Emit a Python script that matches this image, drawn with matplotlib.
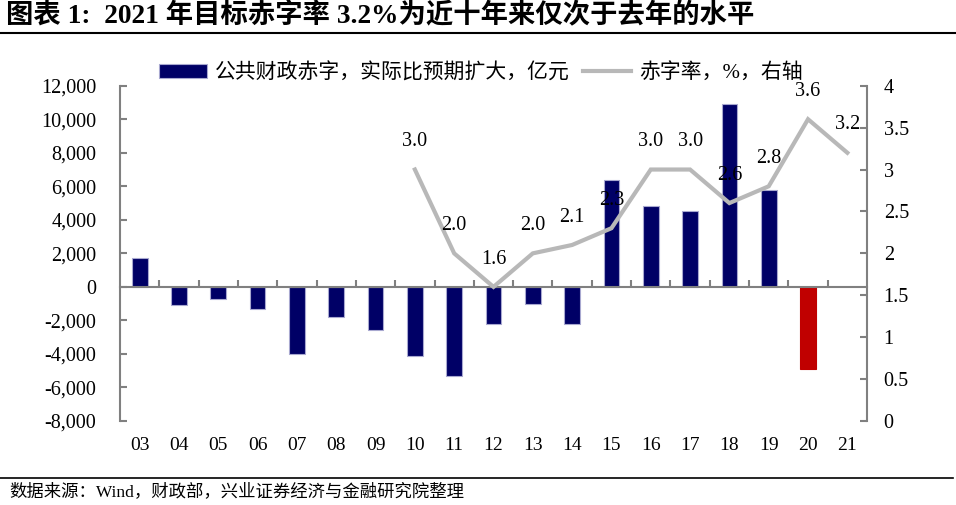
import matplotlib
matplotlib.use("Agg")
import matplotlib.pyplot as plt
import numpy as np

plt.rcParams['font.family'] = ['Liberation Serif', 'Noto Sans CJK SC']
plt.rcParams['axes.unicode_minus'] = False

years = ["03", "04", "05", "06", "07", "08", "09", "10", "11", "12",
         "13", "14", "15", "16", "17", "18", "19", "20", "21"]
deficit_gap = [1750, -1100, -700, -1300, -4000, -1800, -2600, -4100, -5300, -2200,
               -1000, -2200, 6350, 4800, 4550, 10900, 5750, -4900, np.nan]
rate_years = ["10", "11", "12", "13", "14", "15", "16", "17", "18", "19", "20", "21"]
deficit_rate = [3.0, 2.0, 1.6, 2.0, 2.1, 2.3, 3.0, 3.0, 2.6, 2.8, 3.6, 3.2]

bar_label = "公共财政赤字，实际比预期扩大，亿元"
line_label = "赤字率，%，右轴"
title = "图表 1:  2021 年目标赤字率 3.2%为近十年来仅次于去年的水平"
source = "数据来源：Wind，财政部，兴业证券经济与金融研究院整理"

navy = "#000066"
red = "#C00000"
grey_line = "#B8B8B8"
axis_grey = "#808080"

fig = plt.figure(figsize=(9.56, 5.05), dpi=100)
ax = fig.add_axes([120 / 956, 1 - 421 / 505, (867 - 120) / 956, (421 - 85.7) / 505])

x = np.arange(len(years))
colors = [navy] * len(years)
colors[years.index("20")] = red
bars = ax.bar(x, deficit_gap, width=0.4, color=colors, edgecolor="#A8A8D0",
              linewidth=0.8, label=bar_label, zorder=2)
bars[years.index("20")].set_edgecolor(red)

ax.set_xlim(-0.5, len(years) - 0.5)
ax.set_ylim(-8000, 12000)
ax.set_yticks(np.arange(-8000, 12001, 2000))
ax.set_yticklabels([f"{v:,}" for v in range(-8000, 12001, 2000)])

ax.spines['top'].set_visible(False)
ax.spines['right'].set_visible(False)
ax.spines['bottom'].set_position(('data', 0))
for s in ['left', 'bottom']:
    ax.spines[s].set_color(axis_grey)
    ax.spines[s].set_linewidth(1.5)
ax.spines['bottom'].set_zorder(3)

ax.tick_params(axis='y', direction='in', length=5, width=1.5, color=axis_grey,
               labelsize=14.5, pad=17)
ax.set_xticks(x)
ax.set_xticklabels([])
ax.tick_params(axis='x', which='major', length=0)
ax.set_xticks(np.arange(0.5, len(years) - 1, 1), minor=True)
ax.tick_params(axis='x', which='minor', direction='in', length=5, width=1.5,
               color=axis_grey)

for i, lab in enumerate(years):
    ax.annotate(lab, xy=(i, 0), xycoords=('data', 'axes fraction'),
                xytext=(0, -18), textcoords='offset points',
                ha='center', va='center', fontsize=14)

ax2 = ax.twinx()
ax2.set_ylim(0, 4)
ax2.set_yticks([0, 0.5, 1, 1.5, 2, 2.5, 3, 3.5, 4])
ax2.set_yticklabels(["0", "0.5", "1", "1.5", "2", "2.5", "3", "3.5", "4"])
for s in ['top', 'left', 'bottom']:
    ax2.spines[s].set_visible(False)
ax2.spines['right'].set_color(axis_grey)
ax2.spines['right'].set_linewidth(1.5)
ax2.tick_params(axis='y', direction='in', length=5, width=1.5, color=axis_grey,
                labelsize=14.5, pad=12)

rx = [years.index(y) for y in rate_years]
ax2.plot(rx, deficit_rate, color=grey_line, lw=3, label=line_label,
         solid_joinstyle='miter', zorder=3)
for xi, v in zip(rx, deficit_rate):
    ax2.annotate(f"{v:.1f}", xy=(xi, v), xytext=(0, 20), textcoords='offset points',
                 ha='center', va='center', fontsize=14.5)

h1, l1 = ax.get_legend_handles_labels()
h2, l2 = ax2.get_legend_handles_labels()
fig.legend(h1 + h2, l1 + l2, loc='center', bbox_to_anchor=(0.503, 0.855), ncol=2,
           frameon=False, fontsize=15, handlelength=2.3, handleheight=0.6,
           columnspacing=0.6, handletextpad=0.4)

fig.text(0.006, 1 - 16 / 505, title, fontsize=19.7, fontweight='bold',
         ha='left', va='center')
fig.add_artist(plt.Line2D([0, 1], [1 - 33 / 505, 1 - 33 / 505], color='black', lw=1.5))
fig.add_artist(plt.Line2D([0, 0.997], [1 - 478 / 505, 1 - 478 / 505], color='black', lw=1.2))
fig.text(0.01, 1 - 492 / 505, source, fontsize=12.5, ha='left', va='center')

fig.savefig("out.png", dpi=100)
